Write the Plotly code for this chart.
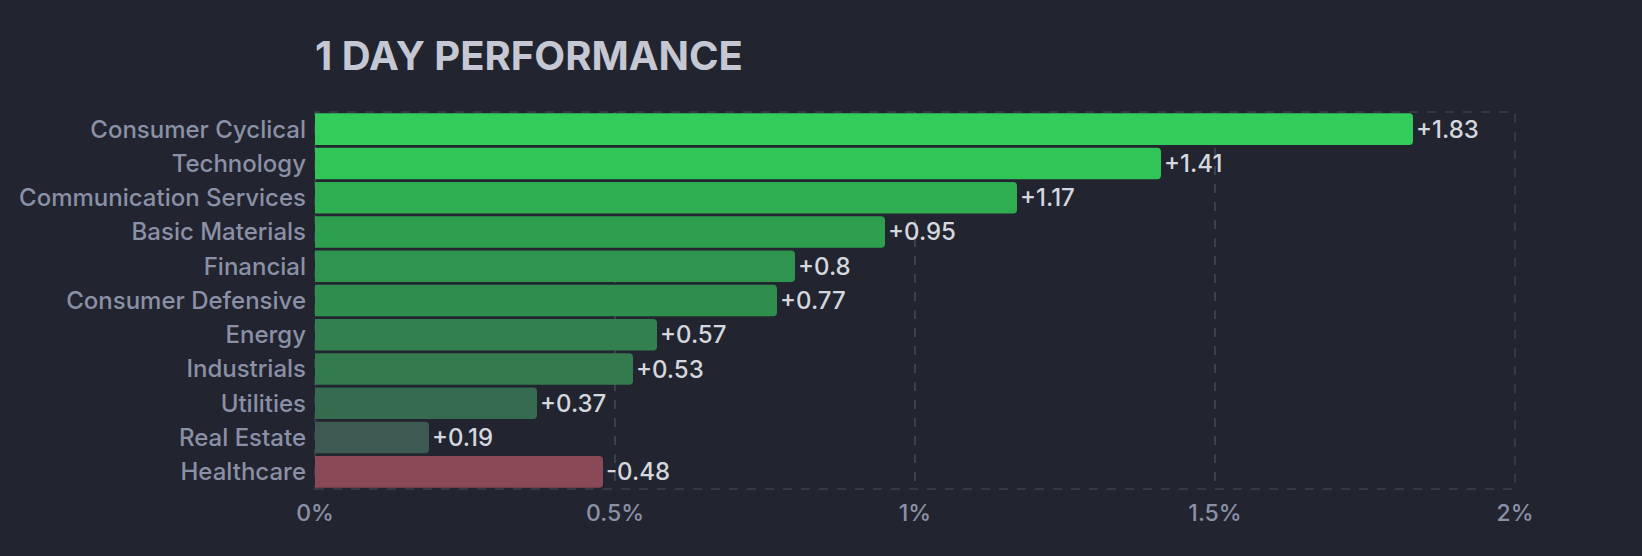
import plotly.graph_objects as go

categories = ["Consumer Cyclical", "Technology", "Communication Services", "Basic Materials",
              "Financial", "Consumer Defensive", "Energy", "Industrials", "Utilities",
              "Real Estate", "Healthcare"]
values = [1.83, 1.41, 1.17, 0.95, 0.8, 0.77, 0.57, 0.53, 0.37, 0.19, -0.48]
colors = ["#31cc5a", "#31c457", "#2fae51", "#2e9f4e", "#2f944e", "#2f8e4e",
          "#327f4f", "#337a4f", "#376b50", "#3c5952", "#894956"]
tick_vals = [0, 0.5, 1, 1.5, 2]
tick_text = ["0%", "0.5%", "1%", "1.5%", "2%"]

labels = [("+" if v >= 0 else "") + f"{v:g}" for v in values]

fig = go.Figure(go.Bar(
    y=categories,
    x=[abs(v) for v in values],
    orientation="h",
    marker=dict(color=colors, line=dict(width=0)),
    text=labels,
    textposition="outside",
    textfont=dict(family="Inter", size=24, color="#d5d7de", weight=500),
    cliponaxis=False,
    hoverinfo="skip",
))

bg = "#22252f"
grid = "#3b404d"

fig.update_layout(
    width=1642, height=556,
    paper_bgcolor=bg, plot_bgcolor=bg,
    margin=dict(l=315, r=127, t=112, b=67),
    bargap=0.08,
    barcornerradius=4,
    showlegend=False,
    font=dict(family="Inter", color="#8a90a6"),
    title=dict(text="<b>1 DAY PERFORMANCE</b>", x=315 / 1642, xanchor="left",
               xref="container", y=0.9, yanchor="middle", yref="container",
               font=dict(family="Inter", size=40, color="#c5c8d2")),
    xaxis=dict(range=[0, 2], tickvals=tick_vals, ticktext=tick_text,
               showgrid=True, gridcolor=grid, griddash="dash", gridwidth=1.5,
               zeroline=False, showline=False,
               tickfont=dict(family="Inter", size=23, color="#8a90a6", weight=500),
               ticks="", ticklabelstandoff=8, fixedrange=True),
    yaxis=dict(autorange="reversed", showgrid=False, zeroline=False,
               tickfont=dict(family="Inter", size=24, color="#8a90a6", weight=500),
               ticks="", ticklabelstandoff=8, fixedrange=True),
    shapes=[dict(type="rect", xref="paper", yref="paper", x0=0, x1=1, y0=0, y1=1,
                 line=dict(color=grid, width=1.5, dash="dash"), layer="below")],
)

fig.write_html("out.html", config={"displayModeBar": False},
               post_script="document.body.style.margin='0';document.body.style.overflow='hidden';document.body.style.background='#22252f';")
